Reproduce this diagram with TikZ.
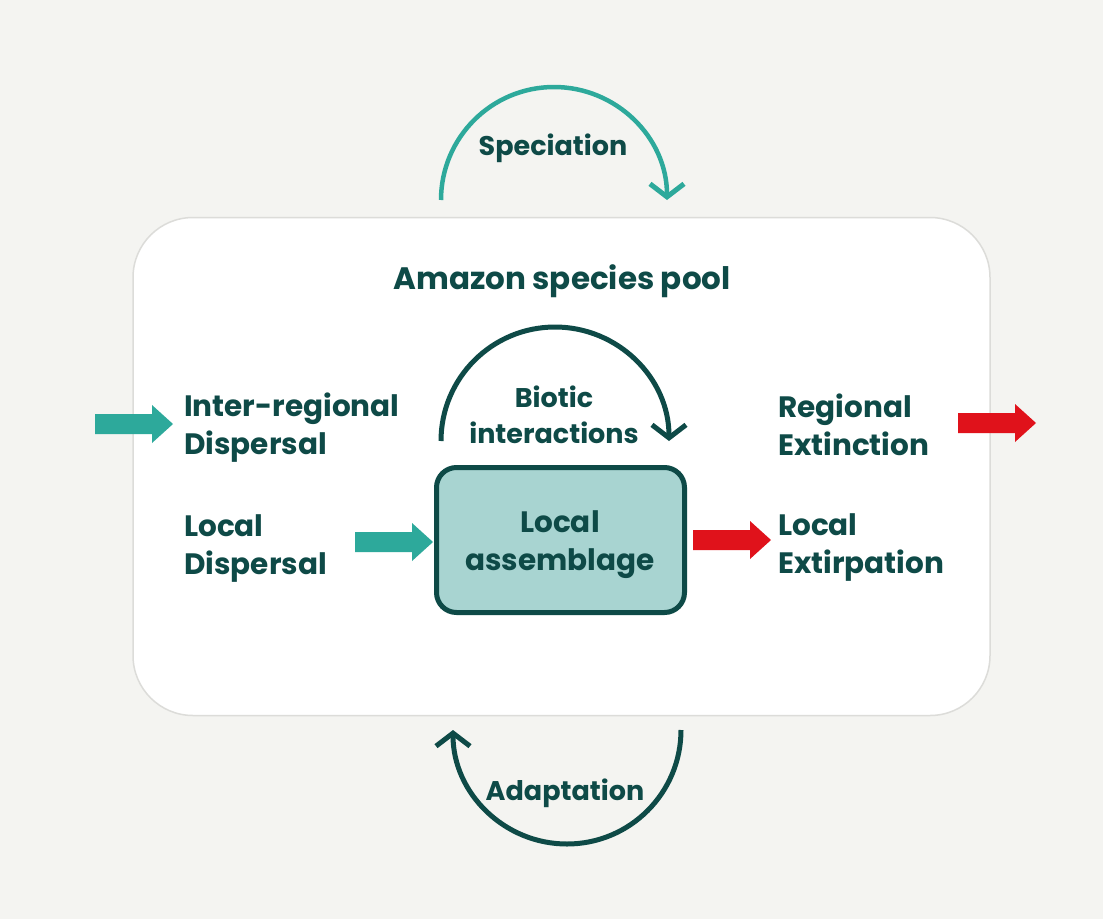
\documentclass[tikz,border=0pt]{standalone}
\usepackage{fontspec}
\setmainfont{Poppins}
\usetikzlibrary{arrows.meta}
\definecolor{bg}{HTML}{F4F4F1}
\definecolor{darkteal}{HTML}{0E4A47}
\definecolor{lightteal}{HTML}{2DA99B}
\definecolor{extred}{HTML}{E0121B}
\definecolor{boxfill}{HTML}{A8D4D1}
\definecolor{poolline}{HTML}{DCDCD9}
\begin{document}
\begin{tikzpicture}[x=1pt,y=1pt,
  lbl/.style={font=\fontsize{29.5}{38}\selectfont\bfseries, text=darkteal, inner sep=0pt, align=left},
  arclbl/.style={font=\fontsize{27}{36}\selectfont\bfseries, text=darkteal, inner sep=0pt, align=center},
  blockarr/.pic={\fill (0,-10) -- (57,-10) -- (57,-19) -- (78,0) -- (57,19) -- (57,10) -- (0,10) -- cycle;},
  chev/.style={-{Straight Barb[length=13pt,width=34pt,line width=5pt]}}
]
\fill[bg] (0,0) rectangle (1103,-919);
\useasboundingbox (0,0) rectangle (1103,-919);
% species pool
\node[draw=poolline, line width=1.5pt, fill=white, rounded corners=60pt,
      minimum width=857pt, minimum height=498pt] (pool) at (561.5,-466.5) {};
\node[lbl, font=\fontsize{31}{38}\selectfont\bfseries, anchor=base] (title) at (562,-289) {Amazon species pool};
% local assemblage
\node[draw=darkteal, line width=5pt, fill=boxfill, rounded corners=20pt,
      minimum width=248pt, minimum height=145pt] (box) at (560.5,-540) {};
\node[lbl, align=center, anchor=base] (boxtxt) at (560,-570) {Local\\assemblage};
% labels
\node[lbl, anchor=base west] (inter) at (184,-454) {Inter-regional\\Dispersal};
\node[lbl, anchor=base west] (ldisp) at (184,-574) {Local\\Dispersal};
\node[lbl, anchor=base west] (rext) at (778,-455) {Regional\\Extinction};
\node[lbl, anchor=base west] (lext) at (778,-573) {Local\\Extirpation};
% block arrows
\pic[lightteal] (a1) at (95,-424) {blockarr};
\pic[lightteal] (a2) at (355,-542) {blockarr};
\pic[extred] (a3) at (693,-540) {blockarr};
\pic[extred] (a4) at (958,-423) {blockarr};
% speciation
\coordinate (s0) at (441,-200);
\draw[lightteal, line width=4.5pt, chev] (s0) arc (180:0:113);
\node[arclbl, anchor=base] (spec) at (553,-155) {Speciation};
% biotic interactions
\coordinate (b0) at (441,-441);
\draw[darkteal, line width=5pt, chev] (b0) arc (180:0:114);
\node[arclbl, anchor=base] (biotic) at (554,-443) {Biotic\\interactions};
% adaptation
\coordinate (d0) at (681,-730);
\draw[darkteal, line width=5pt, chev] (d0) arc (0:-180:114);
\node[arclbl, anchor=base] (adapt) at (565,-800) {Adaptation};
\end{tikzpicture}
\end{document}
